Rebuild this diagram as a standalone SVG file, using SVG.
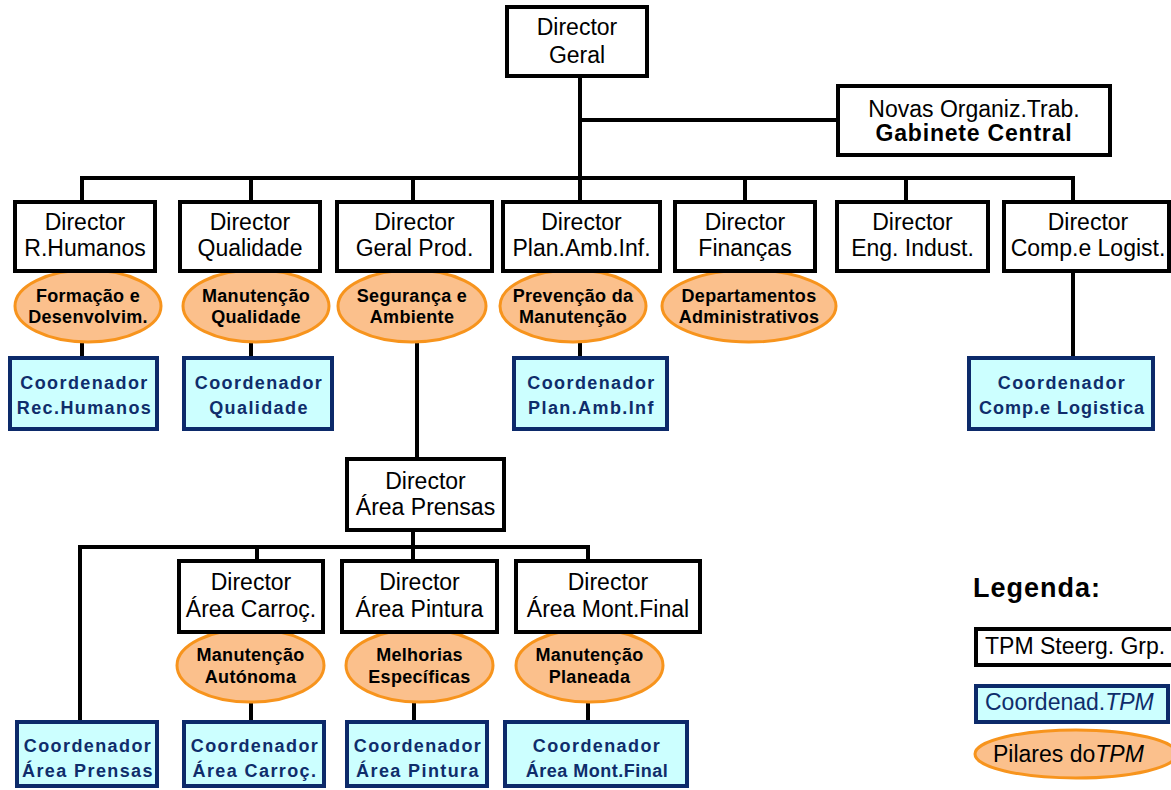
<svg xmlns="http://www.w3.org/2000/svg" width="1171" height="790" viewBox="0 0 1171 790">
  <style>
    .dir rect { fill: #ffffff; stroke: #000000; stroke-width: 4; }
    .dir text { font-family: "Liberation Sans", Arial, sans-serif; font-size: 23px; fill: #000000; text-anchor: middle; }
    .sub { font-weight: bold; font-size: 16px; letter-spacing: 0.8px; }
    .pil ellipse { fill: #fbc08c; stroke: #f7941d; stroke-width: 3; }
    .pil text { font-family: "Liberation Sans", Arial, sans-serif; font-weight: bold; font-size: 18px; letter-spacing: 0.3px; fill: #000000; text-anchor: middle; }
    .crd rect { fill: #ccffff; stroke: #0c2a6a; stroke-width: 4; }
    .crd text { font-family: "Liberation Sans", Arial, sans-serif; font-weight: bold; font-size: 18px; letter-spacing: 1.4px; fill: #0f2d6b; text-anchor: middle; }
    .wire { stroke: #000000; stroke-width: 4; fill: none; stroke-linejoin: miter; }
  </style>

  <!-- connectors -->
  <g id="connectors" class="wire">
    <path d="M580,76 V178"/>
    <path d="M580,120 H838"/>
    <path d="M82,202 V178 H1073 V202"/>
    <path d="M251,178 V202"/>
    <path d="M413,178 V202"/>
    <path d="M580,178 V202"/>
    <path d="M745,178 V202"/>
    <path d="M906,178 V202"/>
    <path d="M82,342 V358"/>
    <path d="M251,342 V358"/>
    <path d="M580,342 V358"/>
    <path d="M1073,271 V358"/>
    <path d="M417,342 V459"/>
    <path d="M413,530 V547"/>
    <path d="M80,722 V547 H588 V561"/>
    <path d="M257,547 V561"/>
    <path d="M413,547 V561"/>
    <path d="M251,702 V722"/>
    <path d="M414,702 V722"/>
    <path d="M588,702 V722"/>
  </g>

  <!-- pillars (drawn beneath the director boxes they hang from) -->
  <g id="pilar-formacao" class="pil">
    <ellipse cx="88" cy="306" rx="73" ry="36"/>
    <text x="88" y="302">Formação e</text>
    <text x="88" y="323">Desenvolvim.</text>
  </g>
  <g id="pilar-qualidade" class="pil">
    <ellipse cx="256" cy="306" rx="73" ry="36"/>
    <text x="256" y="302">Manutenção</text>
    <text x="256" y="323">Qualidade</text>
  </g>
  <g id="pilar-seguranca" class="pil">
    <ellipse cx="412" cy="306" rx="74" ry="36"/>
    <text x="412" y="302">Segurança e</text>
    <text x="412" y="323">Ambiente</text>
  </g>
  <g id="pilar-prevencao" class="pil">
    <ellipse cx="573" cy="306" rx="73" ry="36"/>
    <text x="573" y="302">Prevenção da</text>
    <text x="573" y="323">Manutenção</text>
  </g>
  <g id="pilar-departamentos" class="pil">
    <ellipse cx="749" cy="306" rx="87" ry="36"/>
    <text x="749" y="302">Departamentos</text>
    <text x="749" y="323">Administrativos</text>
  </g>
  <g id="pilar-autonoma" class="pil">
    <ellipse cx="250.5" cy="665.5" rx="73.5" ry="36.5"/>
    <text x="250.5" y="661">Manutenção</text>
    <text x="250.5" y="683">Autónoma</text>
  </g>
  <g id="pilar-melhorias" class="pil">
    <ellipse cx="419.5" cy="665.5" rx="73.5" ry="36.5"/>
    <text x="419.5" y="661">Melhorias</text>
    <text x="419.5" y="683">Específicas</text>
  </g>
  <g id="pilar-planeada" class="pil">
    <ellipse cx="589.5" cy="665.5" rx="73.5" ry="36.5"/>
    <text x="589.5" y="661">Manutenção</text>
    <text x="589.5" y="683">Planeada</text>
  </g>

  <!-- directors -->
  <g id="director-geral" class="dir">
    <rect x="507" y="7" width="140" height="69"/>
    <text x="577" y="35">Director</text>
    <text x="577" y="63">Geral</text>
  </g>
  <g id="novas-organiz" class="dir">
    <rect x="838" y="86" width="272" height="69"/>
    <text x="974" y="117">Novas Organiz.Trab.</text>
    <text class="sub" x="974" y="141">Gabinete Central</text>
  </g>
  <g id="director-rh" class="dir">
    <rect x="15" y="202" width="140" height="69"/>
    <text x="85" y="230">Director</text>
    <text x="85" y="256">R.Humanos</text>
  </g>
  <g id="director-qualidade" class="dir">
    <rect x="180" y="202" width="140" height="69"/>
    <text x="250" y="230">Director</text>
    <text x="250" y="256">Qualidade</text>
  </g>
  <g id="director-geral-prod" class="dir">
    <rect x="337" y="202" width="155" height="69"/>
    <text x="414.5" y="230">Director</text>
    <text x="414.5" y="256">Geral Prod.</text>
  </g>
  <g id="director-plan" class="dir">
    <rect x="503" y="202" width="157" height="69"/>
    <text x="581.5" y="230">Director</text>
    <text x="581.5" y="256">Plan.Amb.Inf.</text>
  </g>
  <g id="director-financas" class="dir">
    <rect x="675" y="202" width="140" height="69"/>
    <text x="745" y="230">Director</text>
    <text x="745" y="256">Finanças</text>
  </g>
  <g id="director-eng" class="dir">
    <rect x="837" y="202" width="151" height="69"/>
    <text x="912.5" y="230">Director</text>
    <text x="912.5" y="256">Eng. Indust.</text>
  </g>
  <g id="director-comp" class="dir">
    <rect x="1004" y="202" width="165" height="69"/>
    <text x="1088" y="230">Director</text>
    <text x="1088" y="256">Comp.e Logist.</text>
  </g>
  <g id="director-prensas" class="dir">
    <rect x="347" y="459" width="157" height="71"/>
    <text x="425.5" y="489">Director</text>
    <text x="425.5" y="515">Área Prensas</text>
  </g>
  <g id="director-carroc" class="dir">
    <rect x="179" y="561" width="144" height="71"/>
    <text x="251" y="590">Director</text>
    <text x="251" y="617">Área Carroç.</text>
  </g>
  <g id="director-pintura" class="dir">
    <rect x="342" y="561" width="155" height="71"/>
    <text x="419.5" y="590">Director</text>
    <text x="419.5" y="617">Área Pintura</text>
  </g>
  <g id="director-montfinal" class="dir">
    <rect x="516" y="561" width="184" height="71"/>
    <text x="608" y="590">Director</text>
    <text x="608" y="617">Área Mont.Final</text>
  </g>

  <!-- TPM coordinators -->
  <g id="coord-rh" class="crd">
    <rect x="10" y="358" width="147" height="71"/>
    <text x="84.5" y="389">Coordenador</text>
    <text x="84.5" y="414">Rec.Humanos</text>
  </g>
  <g id="coord-qualidade" class="crd">
    <rect x="184" y="358" width="148" height="71"/>
    <text x="259" y="389">Coordenador</text>
    <text x="259" y="414">Qualidade</text>
  </g>
  <g id="coord-plan" class="crd">
    <rect x="514" y="358" width="153" height="71"/>
    <text x="591.5" y="389">Coordenador</text>
    <text x="591.5" y="414">Plan.Amb.Inf</text>
  </g>
  <g id="coord-comp" class="crd">
    <rect x="969" y="358" width="184" height="71"/>
    <text x="1062" y="389">Coordenador</text>
    <text x="1062" y="414" style="letter-spacing:1px">Comp.e Logistica</text>
  </g>
  <g id="coord-prensas" class="crd">
    <rect x="17" y="722" width="140" height="64"/>
    <text x="88" y="752">Coordenador</text>
    <text x="88" y="777">Área Prensas</text>
  </g>
  <g id="coord-carroc" class="crd">
    <rect x="184" y="722" width="140" height="64"/>
    <text x="255" y="752">Coordenador</text>
    <text x="255" y="777">Área Carroç.</text>
  </g>
  <g id="coord-pintura" class="crd">
    <rect x="347" y="722" width="140" height="64"/>
    <text x="418" y="752">Coordenador</text>
    <text x="418" y="777">Área Pintura</text>
  </g>
  <g id="coord-montfinal" class="crd">
    <rect x="505" y="722" width="182" height="64"/>
    <text x="597" y="752">Coordenador</text>
    <text x="597" y="777" style="letter-spacing:0.5px">Área Mont.Final</text>
  </g>

  <!-- legend -->
  <g id="legend">
    <text x="973" y="597" style="font-family:'Liberation Sans',Arial,sans-serif;font-weight:bold;font-size:27px;letter-spacing:1px;fill:#000">Legenda:</text>
    <g class="dir">
      <rect x="976" y="629" width="210" height="36"/>
      <text x="985" y="654" style="text-anchor:start">TPM Steerg. Grp.</text>
    </g>
    <g class="crd">
      <rect x="976" y="686" width="192" height="36"/>
      <text x="985" y="710" style="text-anchor:start;font-weight:normal;font-size:23px;letter-spacing:0">Coordenad.<tspan font-style="italic">TPM</tspan></text>
    </g>
    <g class="pil">
      <ellipse cx="1076" cy="754" rx="101" ry="24"/>
      <text x="993" y="762" style="text-anchor:start;font-weight:normal;font-size:23px;letter-spacing:0">Pilares do<tspan font-style="italic">TPM</tspan></text>
    </g>
  </g>
</svg>
